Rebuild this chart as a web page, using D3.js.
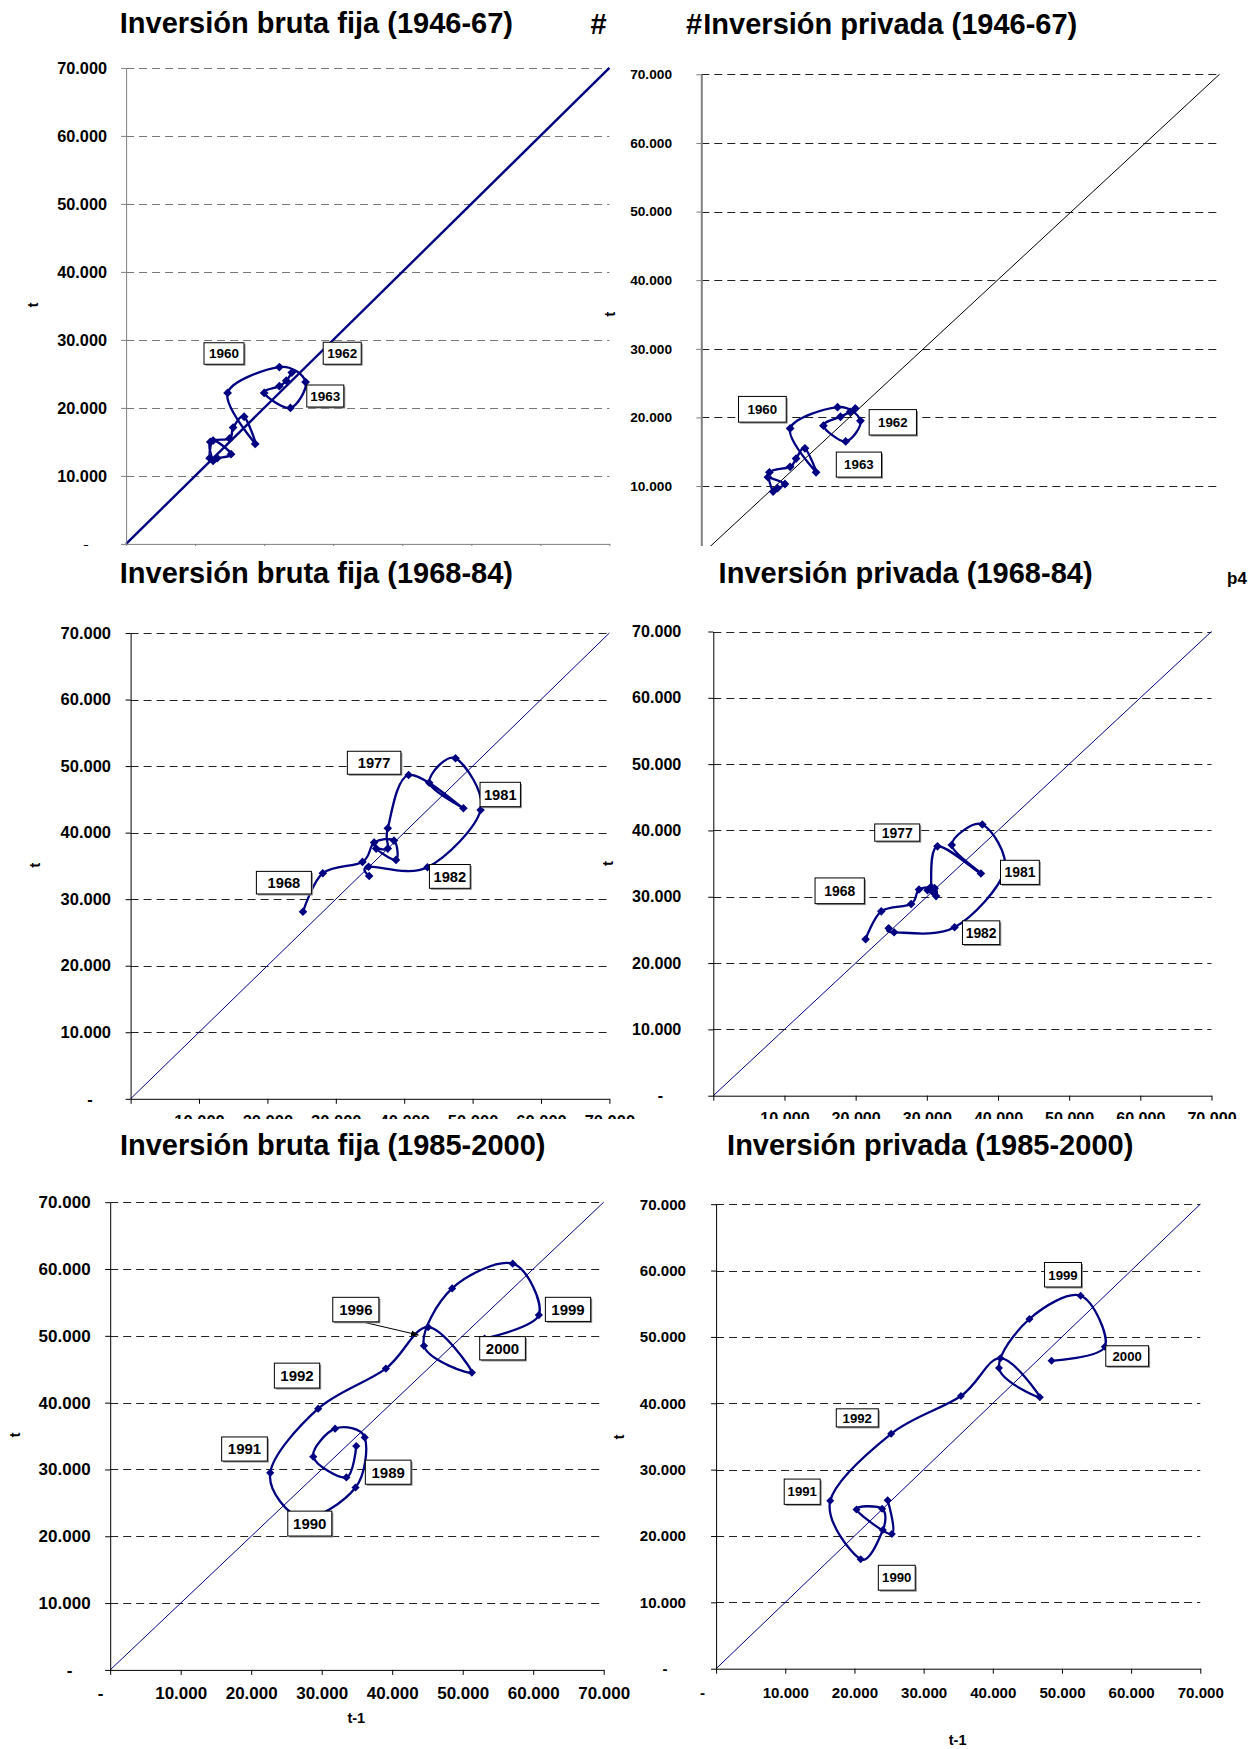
<!DOCTYPE html>
<html>
<head>
<meta charset="utf-8">
<script src="https://cdn.jsdelivr.net/npm/d3@7"></script>
<style>
  html, body { margin: 0; padding: 0; background: #fff; }
  svg { display: block; }
  text { font-family: "Liberation Sans", Arial, Helvetica, sans-serif; font-weight: bold; }
</style>
</head>
<body>
<svg id="chart" width="1248" height="1749"></svg>
<script>
// ---------------------------------------------------------------
// Annual investment levels (millions). Each plotted point pairs the
// level of year t-1 (horizontal) with the level of year t (vertical).
// ---------------------------------------------------------------

// Inversión bruta fija, 1946-67
const ibfYearsA  = [1945,1946,1947,1948,1949,1950,1951,1952,1953,1954,1955,1956,1957,1958,1959,1960,1961,1962,1963];
const ibfValuesA = [12100,12600,15200,13200,12600,12200,15000,15500,17100,18700,14700,22200,26000,23800,20000,22200,23200,24000,25200];

// Inversión privada, 1946-67
const ipYearsA  = [1946,1947,1948,1949,1950,1951,1952,1953,1954,1955,1956,1957,1958,1959,1960,1961,1962,1963];
const ipValuesA = [9000,11300,10300,9700,9200,12000,12800,14000,15500,12000,18400,21500,19500,16500,18800,20100,20800,21300];

// Inversión bruta fija, 1968-84
const ibfYearsB  = [1967,1968,1969,1970,1971,1972,1973,1974,1975,1976,1977,1978,1979,1980,1981,1982,1983,1984];
const ibfValuesB = [25200,28100,33900,35600,38500,38800,35900,37600,37600,40650,48660,43660,47500,51170,43400,34790,34880,33480];

// Inversión privada, 1968-84
const ipYearsB  = [1967,1968,1969,1970,1971,1972,1973,1974,1975,1976,1977,1978,1979,1980,1981,1982,1983,1984];
const ipValuesB = [21400,23600,27800,28900,31100,31300,30100,31000,30600,31500,37600,33500,37800,40900,33900,25400,24640,25250];

// Inversión bruta fija, 1985-2000
const ibfYearsC  = [1983,1984,1985,1986,1987,1988,1989,1990,1991,1992,1993,1994,1995,1996,1997,1998,1999,2000];
const ibfValuesC = [34900,33500,28800,31900,36100,34800,27300,22700,29500,39100,45100,51300,44500,48500,57100,60800,53100,49600];

// Inversión privada, 1985-2000
const ipYearsC  = [1984,1985,1986,1987,1988,1989,1990,1991,1992,1993,1994,1995,1996,1997,1998,1999,2000];
const ipValuesC = [24800,25400,20300,24000,24100,20900,16500,25300,35400,41100,46800,40900,45300,52700,56200,48500,46400];

// Shared axis ticks (both axes run 0 - 70.000)
const axisTicks = [0,10000,20000,30000,40000,50000,60000,70000];

// Year call-outs, anchored in data units (centre of the box)
const tagsA = [
  {label:"1960", x:14180, y:28000, w:40,   h:21.5},
  {label:"1962", x:31300, y:28040, w:38,   h:22},
  {label:"1963", x:28850, y:21750, w:37,   h:22}
];
const tagsB = [
  {label:"1960", x:8250,  y:21190, w:47.7, h:25.7},
  {label:"1962", x:25870, y:19290, w:47.3, h:25.4},
  {label:"1963", x:21290, y:13130, w:45.2, h:25}
];
const tagsC = [
  {label:"1977", x:35600, y:50500, w:53.5, h:23},
  {label:"1968", x:22410, y:32480, w:55,   h:22.6},
  {label:"1981", x:54040, y:45730, w:40.4, h:24.4},
  {label:"1982", x:46670, y:33420, w:40.8, h:23.8}
];
const tagsD = [
  {label:"1977", x:25840, y:39680, w:45,   h:17.2},
  {label:"1968", x:17760, y:30900, w:49.3, h:25.7},
  {label:"1981", x:43080, y:33680, w:38.8, h:24.1},
  {label:"1982", x:37630, y:24580, w:37.3, h:23.7}
];
const tagsE = [
  {label:"1996", x:34840, y:53930, w:46.1, h:24.5},
  {label:"1999", x:64940, y:53960, w:45.3, h:24.1},
  {label:"1992", x:26500, y:44050, w:45.3, h:24.9},
  {label:"2000", x:55650, y:48140, w:45.7, h:23.3},
  {label:"1991", x:19050, y:33060, w:45.7, h:24.1},
  {label:"1989", x:39430, y:29590, w:45.7, h:24.1},
  {label:"1990", x:28310, y:21900, w:44,   h:24.9}
];
const tagsF = [
  {label:"1999", x:50150, y:59370, w:36.9, h:24.5},
  {label:"2000", x:59430, y:47120, w:42.8, h:20.5},
  {label:"1992", x:20410, y:37800, w:42,   h:18.1},
  {label:"1991", x:12450, y:26670, w:36,   h:25.3},
  {label:"1990", x:26120, y:13710, w:36.9, h:24.9}
];

// Pointer from the 1996 call-out (data units)
const arrowsE = [{from:[35900,52050], to:[43700,50130]}];

// ---------------------------------------------------------------
const esLocale = d3.formatLocale({decimal: ",", thousands: ".", grouping: [3], currency: ["", ""]});
const fmtThousands = esLocale.format(",d");
const fmtTick = v => v === 0 ? "-" : fmtThousands(v);

const svg = d3.select("#chart");
const defs = svg.append("defs");
defs.append("marker")
  .attr("id", "arrowHead")
  .attr("viewBox", "0 0 10 10")
  .attr("refX", 9).attr("refY", 5)
  .attr("markerWidth", 8).attr("markerHeight", 8)
  .attr("markerUnits", "userSpaceOnUse")
  .attr("orient", "auto")
  .append("path").attr("d", "M0,1.5L10,5L0,8.5Z").attr("fill", "#000");

const panels = [
  {id:"p1", title:"Inversión bruta fija (1946-67)", years:ibfYearsA, values:ibfValuesA, tags:tagsA,
   left:126.1, right:609.4, top:67.9, bottom:543.9, labelRight:107, tickFont:16.3,
   titleX:316.4, titleY:33, axisColor:"#808080", axisWidth:1, gridColor:"#777",
   diagColor:"#000080", diagWidth:2.4, lineWidth:2.4, markR:4.4, tagFont:13.5,
   yTitle:[32.7,305], clip:[0,546], hideXLabels:true},
  {id:"p2", title:"Inversión privada (1946-67)", years:ipYearsA, values:ipValuesA, tags:tagsB,
   left:701.3, right:1219.5, top:74.3, bottom:554.7, labelRight:672, tickFont:13.7,
   titleX:890.3, titleY:34, axisColor:"#808080", axisWidth:2, gridColor:"#222",
   diagColor:"#000", diagWidth:1, lineWidth:2.3, markR:4.4, tagFont:13.3,
   yTitle:[609.4,314.3], clip:[0,546], hideXLabels:true},
  {id:"p3", title:"Inversión bruta fija (1968-84)", years:ibfYearsB, values:ibfValuesB, tags:tagsC,
   left:130.6, right:609.4, top:633, bottom:1098.8, labelRight:111, tickFont:16.5,
   titleX:316.4, titleY:583, axisColor:"#000", axisWidth:1, gridColor:"#222",
   diagColor:"#000080", diagWidth:1, lineWidth:2.3, markR:4.3, tagFont:14.7,
   yTitle:[34.7,865.3], clip:[546,1119], xLabelDy:23, xZeroDx:-10},
  {id:"p4", title:"Inversión privada (1968-84)", years:ipYearsB, values:ipValuesB, tags:tagsD,
   left:713.3, right:1211.5, top:631.5, bottom:1095.7, labelRight:681.3, tickFont:16.1,
   titleX:905.6, titleY:583, axisColor:"#000", axisWidth:1, gridColor:"#222",
   diagColor:"#000080", diagWidth:1, lineWidth:2.3, markR:4.3, tagFont:13.9,
   yTitle:[608.2,863.4], clip:[546,1119], xLabelDy:23, xZeroDx:-12},
  {id:"p5", title:"Inversión bruta fija (1985-2000)", years:ibfYearsC, values:ibfValuesC, tags:tagsE, arrows:arrowsE,
   left:110.2, right:603.7, top:1202.2, bottom:1669.9, labelRight:90.6, tickFont:17,
   titleX:332.7, titleY:1155, axisColor:"#000", axisWidth:1, gridColor:"#222",
   diagColor:"#000080", diagWidth:1, lineWidth:2.3, markR:4.1, tagFont:15,
   yTitle:[14.3,1434.9], xTitle:[356.3,1717.7], xLabelDy:22.9, xZeroDx:-10},
  {id:"p6", title:"Inversión privada (1985-2000)", years:ipYearsC, values:ipValuesC, tags:tagsF,
   left:716.1, right:1200.3, top:1204.2, bottom:1668.7, labelRight:686, tickFont:15.1,
   titleX:930.2, titleY:1155, axisColor:"#000", axisWidth:1, gridColor:"#222",
   diagColor:"#000080", diagWidth:1, lineWidth:2.3, markR:4, tagFont:13.2,
   yTitle:[619.2,1436.9], xTitle:[957.6,1739.7], xLabelDy:24, xZeroDx:-14}
];

function drawPanel(cfg) {
  const g = svg.append("g").attr("class", "panel " + cfg.id);
  if (cfg.clip) {
    defs.append("clipPath").attr("id", "clip-" + cfg.id)
      .append("rect").attr("x", 0).attr("y", cfg.clip[0])
      .attr("width", 1248).attr("height", cfg.clip[1] - cfg.clip[0]);
    g.attr("clip-path", "url(#clip-" + cfg.id + ")");
  }

  const x = d3.scaleLinear().domain([0, 70000]).range([cfg.left, cfg.right]);
  const y = d3.scaleLinear().domain([0, 70000]).range([cfg.bottom, cfg.top]);

  // title
  g.append("text")
    .attr("x", cfg.titleX).attr("y", cfg.titleY)
    .attr("text-anchor", "middle")
    .attr("font-size", 29)
    .attr("fill", "#000")
    .text(cfg.title);

  // dashed horizontal gridlines
  g.append("g").selectAll("line")
    .data(axisTicks.filter(t => t > 0))
    .join("line")
    .attr("x1", cfg.left).attr("x2", x(70000))
    .attr("y1", d => Math.round(y(d)) + 0.5).attr("y2", d => Math.round(y(d)) + 0.5)
    .attr("stroke", cfg.gridColor).attr("stroke-width", 1)
    .attr("stroke-dasharray", "8,5");

  // 45-degree reference line
  g.append("line")
    .attr("x1", x(0)).attr("y1", y(0))
    .attr("x2", x(70000)).attr("y2", y(70000))
    .attr("stroke", cfg.diagColor).attr("stroke-width", cfg.diagWidth);

  // vertical axis
  const yAxis = d3.axisLeft(y).tickValues(axisTicks).tickFormat(fmtTick)
    .tickSize(5).tickSizeOuter(0).tickPadding(cfg.left - cfg.labelRight - 5);
  const ya = g.append("g").attr("transform", `translate(${cfg.left},0)`).call(yAxis);
  ya.attr("font-family", null).attr("font-size", null);
  ya.select(".domain").attr("stroke", cfg.axisColor).attr("stroke-width", cfg.axisWidth);
  ya.selectAll(".tick line").attr("stroke", cfg.axisColor);
  ya.selectAll(".tick text").attr("font-size", cfg.tickFont).attr("fill", "#000");
  ya.selectAll(".tick text").filter(d => d === 0)
    .attr("text-anchor", "middle")
    .attr("x", -(cfg.left - cfg.labelRight) - 21);

  // horizontal axis (labels of the top row fall outside the chart frame)
  const xAxis = d3.axisBottom(x).tickValues(axisTicks)
    .tickFormat(cfg.hideXLabels ? () => "" : fmtTick)
    .tickSize(5).tickSizeOuter(0);
  const xa = g.append("g").attr("transform", `translate(0,${cfg.bottom})`).call(xAxis);
  xa.attr("font-family", null).attr("font-size", null);
  xa.select(".domain").attr("stroke", cfg.axisColor).attr("stroke-width", cfg.axisWidth);
  xa.selectAll(".tick line").attr("stroke", cfg.axisColor);
  if (cfg.hideXLabels) {
    xa.selectAll(".tick text").remove();
  } else {
    xa.selectAll(".tick text")
      .attr("font-size", cfg.tickFont).attr("fill", "#000")
      .attr("y", cfg.xLabelDy).attr("dy", "0.34em");
    xa.selectAll(".tick text").filter(d => d === 0).attr("x", cfg.xZeroDx);
  }

  // axis titles
  g.append("text")
    .attr("transform", `translate(${cfg.yTitle[0]},${cfg.yTitle[1]}) rotate(-90)`)
    .attr("text-anchor", "middle").attr("dy", "0.35em")
    .attr("font-size", 15).attr("fill", "#000")
    .text("t");
  if (cfg.xTitle) {
    g.append("text")
      .attr("x", cfg.xTitle[0]).attr("y", cfg.xTitle[1])
      .attr("text-anchor", "middle").attr("dy", "0.35em")
      .attr("font-size", 14.5).attr("fill", "#000")
      .text("t-1");
  }

  // phase points: (value at t-1, value at t)
  const pts = cfg.values.slice(1).map((v, i) => ({year: cfg.years[i + 1], prev: cfg.values[i], cur: v}));

  const line = d3.line()
    .x(d => x(d.prev)).y(d => y(d.cur))
    .curve(d3.curveCardinal.tension(0));
  g.append("path")
    .datum(pts)
    .attr("d", line)
    .attr("fill", "none")
    .attr("stroke", "#000080")
    .attr("stroke-width", cfg.lineWidth)
    .attr("stroke-linejoin", "round");

  const r = cfg.markR;
  g.append("g").selectAll("path")
    .data(pts)
    .join("path")
    .attr("transform", d => `translate(${x(d.prev)},${y(d.cur)})`)
    .attr("d", `M0,${-r}L${r},0L0,${r}L${-r},0Z`)
    .attr("fill", "#000080");

  // call-out pointers
  (cfg.arrows || []).forEach(a => {
    g.append("line")
      .attr("x1", x(a.from[0])).attr("y1", y(a.from[1]))
      .attr("x2", x(a.to[0])).attr("y2", y(a.to[1]))
      .attr("stroke", "#000").attr("stroke-width", 1)
      .attr("marker-end", "url(#arrowHead)");
  });

  // year call-outs
  const tg = g.append("g").selectAll("g")
    .data(cfg.tags)
    .join("g")
    .attr("transform", d => `translate(${x(d.x)},${y(d.y)})`);
  tg.append("rect")
    .attr("x", d => -d.w / 2 + 1.5).attr("y", d => -d.h / 2 + 1.5)
    .attr("width", d => d.w).attr("height", d => d.h)
    .attr("fill", "#8c8c8c");
  tg.append("rect")
    .attr("x", d => -d.w / 2).attr("y", d => -d.h / 2)
    .attr("width", d => d.w).attr("height", d => d.h)
    .attr("fill", "#fff").attr("stroke", "#000").attr("stroke-width", 1);
  tg.append("text")
    .attr("text-anchor", "middle").attr("dy", "0.36em")
    .attr("font-size", cfg.tagFont).attr("fill", "#000")
    .text(d => d.label);

  return g;
}

const drawn = panels.map(drawPanel);

// stray cell glyphs around the headings
drawn[0].append("text").attr("x", 590.6).attr("y", 34).attr("font-size", 29).attr("fill", "#000").text("#");
drawn[1].append("text").attr("x", 686).attr("y", 34).attr("font-size", 29).attr("fill", "#000").text("#");
svg.append("text").attr("x", 1227).attr("y", 584).attr("font-size", 17).attr("fill", "#000").text("þ4");
</script>
</body>
</html>
